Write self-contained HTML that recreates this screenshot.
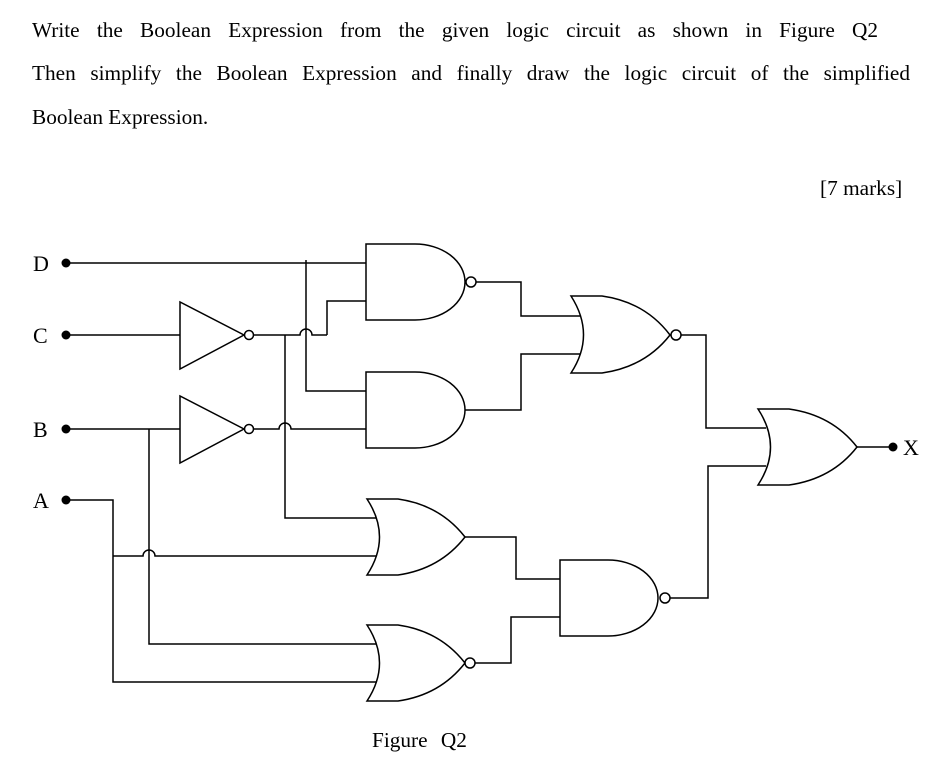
<!DOCTYPE html>
<html><head><meta charset="utf-8"><style>
body{margin:0;background:#fff;width:950px;height:781px;overflow:hidden;position:relative;font-family:"Liberation Serif",serif;color:#000}
.t{position:absolute;font-size:21.3px;white-space:nowrap;line-height:28px}
.j{display:inline-block;text-align:justify;text-align-last:justify;white-space:normal}
</style></head><body>
<div class="t j" style="left:32px;top:16px;width:846px">Write the Boolean Expression from the given logic circuit as shown in Figure Q2</div>
<div class="t j" style="left:32px;top:59px;width:878px">Then simplify the Boolean Expression and finally draw the logic circuit of the simplified</div>
<div class="t" style="left:32px;top:103px">Boolean Expression.</div>
<div class="t" style="left:820px;top:174px">[7 marks]</div>
<div class="t" style="left:372px;top:726px;word-spacing:8px">Figure Q2</div>
<svg width="950" height="781" style="position:absolute;left:0;top:0" fill="none" stroke="#000" stroke-width="1.5">
<g font-family="Liberation Serif,serif" font-size="22" fill="#000" stroke="none">
<text x="33" y="271">D</text><text x="33" y="343">C</text><text x="33" y="437">B</text><text x="33" y="508">A</text><text x="903" y="455">X</text>
</g>
<g fill="#000" stroke="none">
<circle cx="66" cy="263" r="4.5"/><circle cx="66" cy="335" r="4.5"/><circle cx="66" cy="429" r="4.5"/><circle cx="66" cy="500" r="4.5"/><circle cx="893" cy="447" r="4.5"/>
</g>
<path d="M66 263H366M306 260V391H366M366 301H327V335"/>
<path d="M66 335H180M254 335H300A6 6 0 0 1 312 335H327"/>
<path d="M285 335V518H378"/>
<path d="M66 429H180M254 429H279A6 6 0 0 1 291 429H366"/>
<path d="M149 429V644H378"/>
<path d="M66 500H113V682H378M113 556H143A6 6 0 0 1 155 556H378"/>
<path d="M476 282H521V316H580M465 410H521V354H580"/>
<path d="M465 537H516V579H560M475 663H511V617H560"/>
<path d="M681 335H706V428H766M670 598H708V466H766M857 447H893"/>
<path d="M180 302V369L244 335Z"/><circle cx="249" cy="335" r="4.5" fill="#fff"/>
<path d="M180 396V463L244 429Z"/><circle cx="249" cy="429" r="4.5" fill="#fff"/>
<path d="M366 244H415A50 38 0 0 1 415 320H366Z" fill="#fff"/><circle cx="471" cy="282" r="5" fill="#fff"/>
<path d="M366 372H415A50 38 0 0 1 415 448H366Z" fill="#fff"/>
<path d="M560 560H608A50 38 0 0 1 608 636H560Z" fill="#fff"/><circle cx="665" cy="598" r="5" fill="#fff"/>
<path d="M367 499H398Q440 505 465 537Q440 569 398 575H367Q392 537 367 499Z" fill="#fff"/>
<path d="M367 625H398Q440 631 465 663Q440 695 398 701H367Q392 663 367 625Z" fill="#fff"/><circle cx="470" cy="663" r="5" fill="#fff"/>
<path d="M571 296H602Q645 302 670 335Q645 367 602 373H571Q596 335 571 296Z" fill="#fff"/><circle cx="676" cy="335" r="5" fill="#fff"/>
<path d="M758 409H789Q832 415 857 447Q832 479 789 485H758Q783 447 758 409Z" fill="#fff"/>
</svg>
</body></html>
